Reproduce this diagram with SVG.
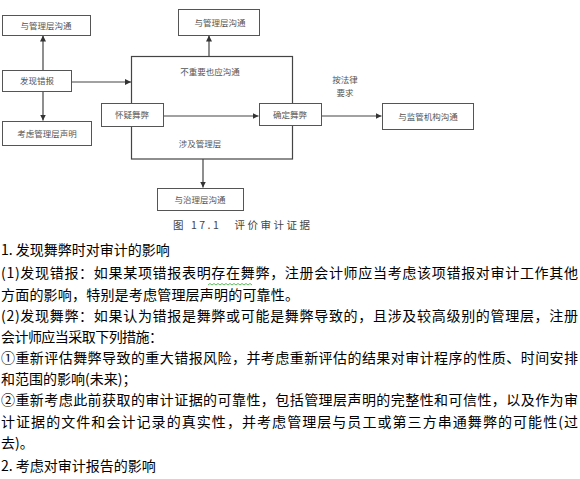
<svg xmlns="http://www.w3.org/2000/svg" width="580" height="479" viewBox="0 0 580 479">
<style>
.box{fill:#fff;stroke:#555;stroke-width:1}
.ln{fill:none;stroke:#444;stroke-width:1.2}
.lb{font-family:"Noto Sans CJK SC","Noto Sans",sans-serif;font-size:8.5px;fill:#555;text-anchor:middle}
.tx{font-family:"Noto Sans CJK SC","Noto Sans",sans-serif;font-size:14px;fill:#000}
.cap{font-family:"Noto Sans CJK SC","Noto Sans",sans-serif;font-size:10.5px;fill:#444}
</style>
<defs>
<marker id="ah" viewBox="0 0 10 10" refX="10" refY="5" markerWidth="6" markerHeight="6" markerUnits="userSpaceOnUse" orient="auto">
<path d="M0,0 L10,5 L0,10 z" fill="#333"/>
</marker>
</defs>
<rect x="0" y="0" width="580" height="479" fill="#fff"/>
<g id="connectors">
<rect class="ln" x="131.5" y="56.5" width="161" height="102.5"/>
<line class="ln" x1="43" y1="70" x2="43" y2="35.5" marker-end="url(#ah)"/>
<line class="ln" x1="43" y1="91" x2="43" y2="120.5" marker-end="url(#ah)"/>
<line class="ln" x1="71" y1="82" x2="131" y2="82" marker-end="url(#ah)"/>
<line class="ln" x1="163" y1="116" x2="258.5" y2="116" marker-end="url(#ah)"/>
<line class="ln" x1="321" y1="116" x2="381.5" y2="116" marker-end="url(#ah)"/>
<line class="ln" x1="209" y1="56" x2="209" y2="35.5" marker-end="url(#ah)"/>
<line class="ln" x1="203" y1="159" x2="203" y2="187.5" marker-end="url(#ah)"/>
<text class="lb" x="210" y="75">不重要也应沟通</text>
<text class="lb" x="345" y="83">按法律</text>
<text class="lb" x="345" y="96">要求</text>
<text class="lb" x="200" y="147">涉及管理层</text>
</g>
<g id="n1"><rect class="box" x="2.5" y="15.5" width="88" height="20"/><text class="lb" x="46" y="28.5">与管理层沟通</text></g>
<g id="n2"><rect class="box" x="2.5" y="70.5" width="69" height="21"/><text class="lb" x="37" y="84">发现错报</text></g>
<g id="n3"><rect class="box" x="2.5" y="121.5" width="89" height="24"/><text class="lb" x="47" y="136.5">考虑管理层声明</text></g>
<g id="n4"><rect class="box" x="101.5" y="103.5" width="62" height="23"/><text class="lb" x="132" y="118">怀疑舞弊</text></g>
<g id="n5"><rect class="box" x="259.5" y="103.5" width="62" height="22"/><text class="lb" x="290" y="117.5">确定舞弊</text></g>
<g id="n6"><rect class="box" x="178.5" y="9.5" width="81" height="26"/><text class="lb" x="220" y="25.5">与管理层沟通</text></g>
<g id="n7"><rect class="box" x="382.5" y="103.5" width="91" height="26"/><text class="lb" x="428" y="119.5">与监管机构沟通</text></g>
<g id="n8"><rect class="box" x="157.5" y="188.5" width="86" height="22"/><text class="lb" x="200" y="202.5">与治理层沟通</text></g>
<text class="cap" x="173" y="229" textLength="137" lengthAdjust="spacing">图 17.1　评价审计证据</text>
<g id="body">
<text class="tx" x="1" y="255">1. 发现舞弊时对审计的影响</text>
<text class="tx" x="1" y="278" textLength="577" lengthAdjust="spacing">(1)发现错报：如果某项错报表明存在舞弊，注册会计师应当考虑该项错报对审计工作其他</text>
<path d="M208,285 l2,-1.5 l2,1.5 l2,-1.5 l2,1.5 l2,-1.5 l2,1.5 l2,-1.5 l2,1.5 l2,-1.5 l2,1.5 l2,-1.5 l2,1.5 l2,-1.5 l2,1.5 l2,-1.5 l2,1.5 l2,-1.5 l2,1.5 l2,-1.5 l2,1.5 l2,-1.5 l2,1.5" fill="none" stroke="#3a3" stroke-width="0.8"/>
<text class="tx" x="1" y="300" textLength="298" lengthAdjust="spacing">方面的影响，特别是考虑管理层声明的可靠性。</text>
<text class="tx" x="1" y="321" textLength="577" lengthAdjust="spacing">(2)发现舞弊：如果认为错报是舞弊或可能是舞弊导致的，且涉及较高级别的管理层，注册</text>
<text class="tx" x="1" y="342" textLength="162" lengthAdjust="spacing">会计师应当采取下列措施：</text>
<text class="tx" x="1" y="363" textLength="577" lengthAdjust="spacing">①重新评估舞弊导致的重大错报风险，并考虑重新评估的结果对审计程序的性质、时间安排</text>
<text class="tx" x="1" y="384">和范围的影响(未来)；</text>
<text class="tx" x="1" y="405" textLength="577" lengthAdjust="spacing">②重新考虑此前获取的审计证据的可靠性，包括管理层声明的完整性和可信性，以及作为审</text>
<text class="tx" x="1" y="427" textLength="577" lengthAdjust="spacing">计证据的文件和会计记录的真实性，并考虑管理层与员工或第三方串通舞弊的可能性(过</text>
<text class="tx" x="1" y="448">去)。</text>
<text class="tx" x="1" y="471">2. 考虑对审计报告的影响</text>
</g>
</svg>
